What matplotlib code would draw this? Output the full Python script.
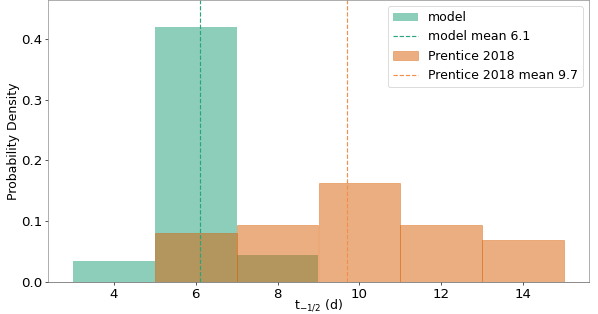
import matplotlib
matplotlib.use("Agg")
import matplotlib.pyplot as plt
import numpy as np

bin_edges = [3, 5, 7, 9, 11, 13, 15]
model_density = [0.035, 0.42, 0.045, 0.0, 0.0, 0.0]
prentice_density = [0.0, 0.0814, 0.093, 0.1628, 0.093, 0.0698]
model_mean = 6.1
prentice_mean = 9.7
c_model = "#1b9e77"
c_pren = "#d95f02"

plt.rcParams['font.family'] = ['DejaVu Sans']
plt.rcParams['font.size'] = 15

DPI = 60
fig = plt.figure(figsize=(598/DPI, 314/DPI), dpi=DPI)
ax = fig.add_axes([48/598, 32/314, 541/598, 282/314])

centers = [(bin_edges[i] + bin_edges[i+1]) / 2 for i in range(len(bin_edges) - 1)]
ax.hist(centers, bins=bin_edges, weights=model_density, color=c_model, alpha=0.5,
        edgecolor="none", label="model")
ax.axvline(model_mean, color="#2aa37f", ls="--", lw=1.4, label=f"model mean {model_mean}")
ax.hist(centers, bins=bin_edges, weights=prentice_density, color=c_pren, alpha=0.5,
        edgecolor=c_pren, linewidth=0.9, label="Prentice 2018")
ax.axvline(prentice_mean, color="#f0904a", ls="--", lw=1.4, label=f"Prentice 2018 mean {prentice_mean}")

ax.set_xlim(2.4, 15.6)
ax.set_ylim(0, 0.464)
ax.set_xticks([4, 6, 8, 10, 12, 14])
ax.set_yticks([0.0, 0.1, 0.2, 0.3, 0.4])
ax.tick_params(labelsize=16)
ax.set_xlabel("t$_{-1/2}$ (d)", labelpad=-4)
ax.set_ylabel("Probability Density", labelpad=1)
for s in ax.spines.values():
    s.set_color("#888888")
ax.spines['bottom'].set_color("#555555")
ax.legend(loc="upper right", fontsize=15)

fig.savefig("out.png", dpi=DPI)
